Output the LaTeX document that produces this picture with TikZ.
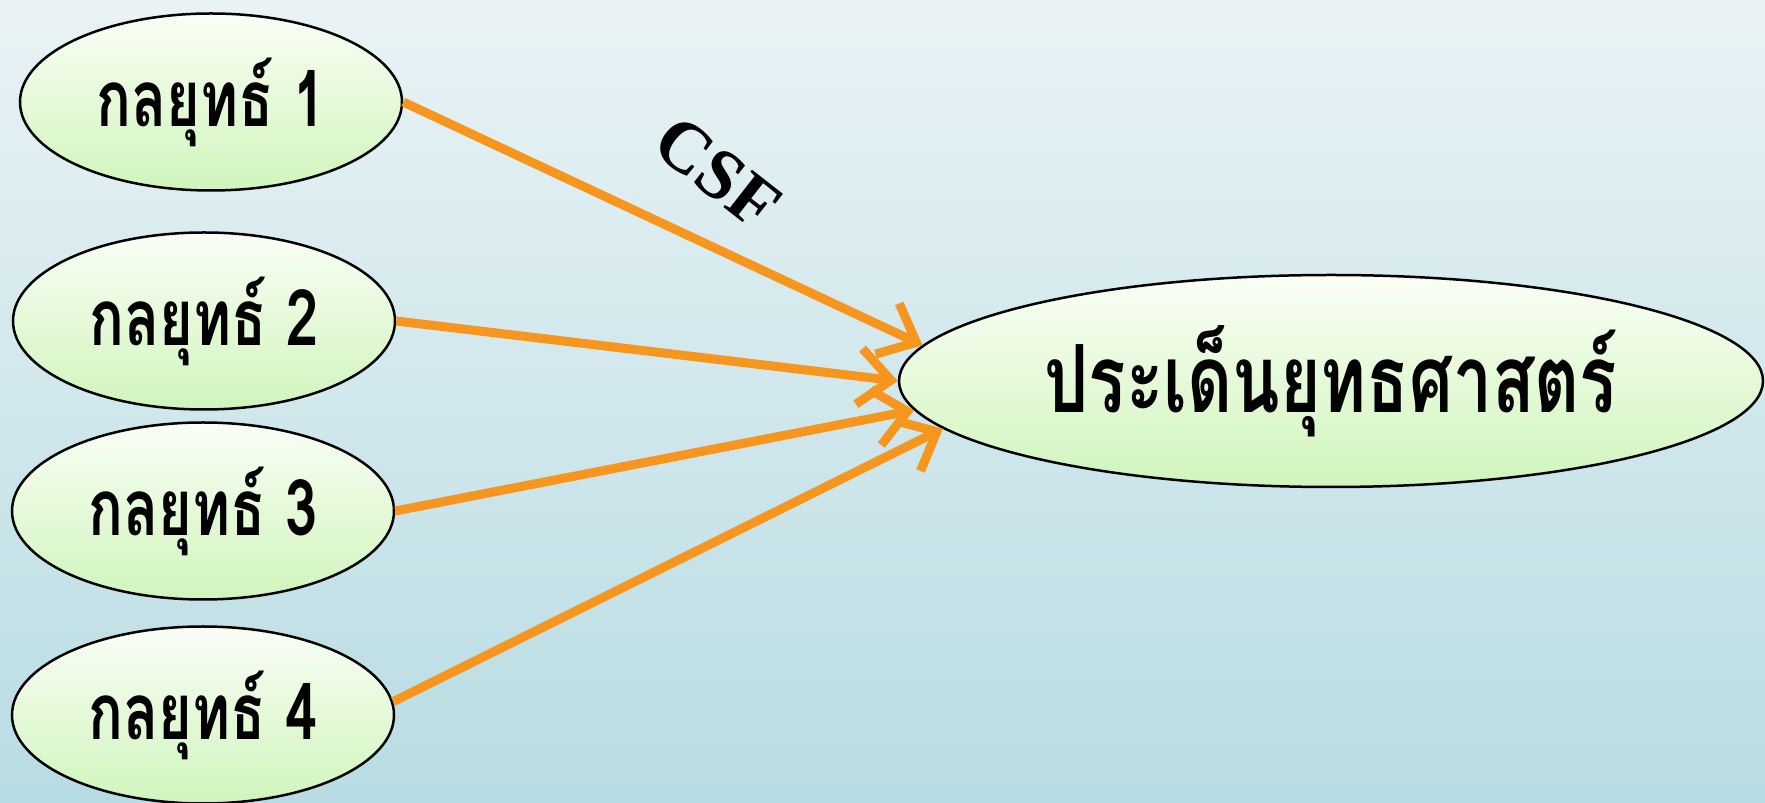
\documentclass[tikz,border=0pt]{standalone}
\usepackage{fontspec}
\setmainfont{Liberation Serif}
\newfontfamily\thaifont[Script=Thai,FakeStretch=0.74]{Loma}
\newfontfamily\thaimain[Script=Thai,FakeStretch=0.74]{Loma}
\usetikzlibrary{arrows.meta,shapes.geometric}
\definecolor{bgtop}{RGB}{233,243,245}
\definecolor{bgbot}{RGB}{184,220,227}
\definecolor{elltop}{RGB}{250,254,246}
\definecolor{ellbot}{RGB}{208,245,188}
\definecolor{arroworange}{RGB}{246,150,30}
\tikzset{
  strat/.style={ellipse, draw=black, line width=2.5pt, inner sep=0pt,
    top color=elltop, bottom color=ellbot,
    minimum width=382pt, minimum height=177pt,
    font=\thaifont\bfseries\fontsize{78}{86}\selectfont},
  mainell/.style={ellipse, draw=black, line width=2.5pt, inner sep=0pt,
    top color=elltop, bottom color=ellbot,
    minimum width=864pt, minimum height=212pt,
    font=\thaimain\bfseries\fontsize{94}{104}\selectfont},
  conn/.style={draw=arroworange, line width=9pt,
    -{Straight Barb[length=32pt,width=56pt]}},
  csflabel/.style={font=\bfseries\fontsize{72}{78}\selectfont, rotate=-38}
}
\begin{document}
\begin{tikzpicture}[x=1pt,y=1pt]
\shade[top color=bgtop,bottom color=bgbot] (0,0) rectangle (1765,803);
\useasboundingbox (0,0) rectangle (1765,803);
\node[strat] (e1) at (211,701) {กลยุทธ์ 1};
\node[strat] (e2) at (204,482) {กลยุทธ์ 2};
\node[strat] (e3) at (203,292) {กลยุทธ์ 3};
\node[strat] (e4) at (203,88) {กลยุทธ์ 4};
\node[mainell] (m) at (1331,422) {ประเด็นยุทธศาสตร์};
\draw[conn] (e1.east) -- (m.175.2);
\draw[conn] (e2.east) -- (m.180.3);
\draw[conn] (e3.east) -- (m.184.5);
\draw[conn] (e4.4) -- (m.187.9);
\node[csflabel] (csf) at (718,630) {CSF};
\end{tikzpicture}
\end{document}
